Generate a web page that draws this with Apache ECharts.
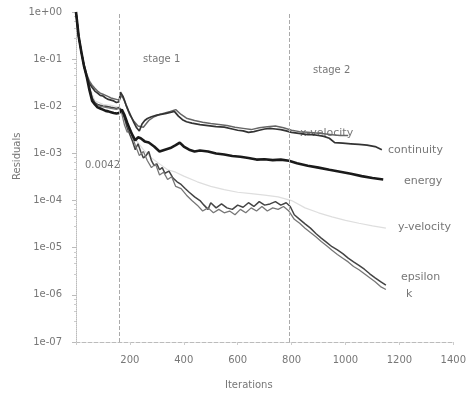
<!DOCTYPE html>
<html><head><meta charset="utf-8">
<script src="https://cdn.jsdelivr.net/npm/echarts@6/dist/echarts.min.js"></script>
<style>html,body{margin:0;padding:0;background:#fff}#c{width:469px;height:394px}</style>
</head><body><div id="c"></div>
<script>
// x tick labels and y tick labels
const xTickLabels = ['', '200', '400', '600', '800', '1000', '1200', '1400'];
const yTickLabels = ['1e+00', '1e-01', '1e-02', '1e-03', '1e-04', '1e-05', '1e-06', '1e-07'];
const markers = [160, 790];
const markerText = ['stage 1', 'stage 2'];

const contIter = [0,5,10,20,30,40,50,60,70,80,90,100,110,120,130,140,150,160,165,175,185,195,205,215,225,235,245,255,265,280,300,320,335,350,365,380,395,410,430,460,490,520,550,580,600,620,640,660,680,700,720,740,760,780,800,820,840,860,880,900,920,940,960,990,1020,1050,1080,1110,1135];
const contVal = [1,0.55,0.3,0.14,0.07,0.042,0.03,0.025,0.021,0.019,0.017,0.0165,0.015,0.014,0.0135,0.013,0.012,0.0125,0.02,0.016,0.011,0.008,0.006,0.0045,0.0035,0.003,0.0042,0.005,0.0055,0.006,0.0065,0.0068,0.0071,0.0074,0.0078,0.0062,0.0052,0.0047,0.0044,0.0041,0.0039,0.0037,0.0036,0.0033,0.0031,0.003,0.0028,0.0029,0.0031,0.0033,0.0034,0.0033,0.0032,0.003,0.0028,0.0027,0.0026,0.0025,0.0025,0.0024,0.0023,0.0021,0.0017,0.00165,0.0016,0.00155,0.0015,0.0014,0.0012];

const xvelIter = [0,5,10,20,30,40,50,60,70,80,90,100,110,120,130,140,150,160,170,180,190,200,215,230,250,270,290,310,330,350,370,390,410,440,470,500,530,560,590,620,650,680,710,740,770,800,830,860,890,920,950,980,1010];
const xvelVal = [1,0.55,0.3,0.14,0.075,0.048,0.034,0.028,0.024,0.021,0.019,0.018,0.017,0.016,0.015,0.0145,0.014,0.0135,0.017,0.013,0.009,0.0065,0.0048,0.0038,0.0036,0.005,0.006,0.0067,0.0072,0.0078,0.0085,0.0067,0.0056,0.005,0.0046,0.0043,0.0041,0.0039,0.0036,0.0034,0.0032,0.0035,0.0037,0.0038,0.0035,0.0031,0.0029,0.0028,0.0027,0.0026,0.0025,0.0024,0.0024];

const enerIter = [0,5,10,20,30,40,50,60,70,80,90,100,110,120,130,140,150,160,170,180,190,200,210,220,230,240,255,270,290,310,330,350,370,385,400,420,440,460,490,520,550,580,610,640,670,700,730,760,790,820,860,900,940,980,1020,1060,1100,1140];
const enerVal = [1,0.55,0.3,0.14,0.07,0.042,0.022,0.013,0.011,0.0095,0.009,0.0085,0.008,0.0078,0.0075,0.0072,0.007,0.0072,0.0085,0.0065,0.0045,0.0032,0.0024,0.0019,0.0022,0.0021,0.0018,0.0017,0.0014,0.0011,0.0012,0.0013,0.0015,0.0017,0.0014,0.0012,0.0011,0.00115,0.0011,0.001,0.00095,0.00088,0.00085,0.0008,0.00074,0.00075,0.00072,0.00074,0.0007,0.00062,0.00055,0.0005,0.00045,0.00041,0.00037,0.00033,0.0003,0.00028];

const yvelIter = [0,5,10,20,30,40,50,70,100,130,160,180,200,220,250,280,310,340,370,400,450,500,550,600,650,700,750,800,850,900,950,1000,1050,1100,1150];
const yvelVal = [1,0.55,0.3,0.14,0.07,0.042,0.026,0.013,0.011,0.0105,0.0095,0.006,0.003,0.002,0.0012,0.0008,0.0006,0.00045,0.0004,0.00033,0.00025,0.0002,0.00017,0.00015,0.00014,0.00013,0.00012,0.0001,0.00007,0.000055,0.000045,0.000038,0.000033,0.000029,0.000026];

const epsIter = [0,5,10,20,30,40,50,60,70,80,90,100,110,120,130,140,150,160,170,180,190,200,210,220,230,240,250,260,270,280,290,300,310,320,330,345,360,375,390,405,420,440,460,475,490,500,520,540,560,580,600,620,640,660,680,700,720,740,760,780,795,810,830,850,870,890,910,930,950,970,990,1010,1030,1050,1070,1090,1110,1130,1150];
const epsVal = [1,0.55,0.3,0.14,0.07,0.042,0.025,0.015,0.012,0.011,0.0105,0.0102,0.01,0.0098,0.0095,0.0093,0.009,0.0095,0.008,0.0055,0.0035,0.0025,0.0018,0.0012,0.0016,0.0011,0.0008,0.0009,0.0011,0.0007,0.00055,0.0006,0.00045,0.0005,0.00038,0.00042,0.0003,0.00025,0.00022,0.00018,0.00015,0.00012,0.0001,0.00008,0.000065,0.00009,0.00007,0.000085,0.00007,0.000065,0.00008,0.000072,0.00009,0.000075,0.000095,0.00008,0.000085,0.000095,0.00008,0.00009,0.000075,0.00005,0.00004,0.000032,0.000026,0.00002,0.000016,0.000013,0.0000105,0.000009,0.0000075,0.000006,0.000005,0.0000042,0.0000035,0.0000028,0.0000023,0.0000019,0.0000016];

const kIter = [0,5,10,20,30,40,50,60,70,80,90,100,110,120,130,140,150,160,170,180,190,200,210,220,235,250,265,280,295,310,325,340,355,370,390,410,430,450,470,490,510,530,550,570,590,610,630,650,670,690,710,730,750,770,790,810,830,850,870,890,910,930,950,970,990,1010,1030,1050,1070,1090,1110,1130,1150];
const kVal = [1,0.55,0.3,0.14,0.07,0.042,0.024,0.014,0.0115,0.0105,0.01,0.0097,0.0095,0.0093,0.009,0.0088,0.0086,0.009,0.007,0.004,0.0028,0.0035,0.0022,0.0015,0.0009,0.0011,0.0007,0.0005,0.0006,0.00035,0.0004,0.00028,0.00032,0.0002,0.00018,0.00013,0.0001,0.00008,0.00006,0.00007,0.000055,0.000065,0.000055,0.00006,0.00005,0.000065,0.000055,0.00007,0.00006,0.000075,0.00006,0.00007,0.000065,0.000075,0.00006,0.00004,0.000033,0.000026,0.000021,0.000017,0.0000135,0.000011,0.0000088,0.0000072,0.000006,0.000005,0.000004,0.0000034,0.0000028,0.0000023,0.0000019,0.0000015,0.0000013];

const seriesNames = ['x-velocity', 'continuity', 'energy', 'y-velocity', 'epsilon', 'k'];

function pairs(a, b) { return a.map((x, i) => [x, b[i]]); }

const chart = echarts.init(document.getElementById('c'), null, {renderer: 'canvas'});
const txt = {fill: '#777', font: '11px "DejaVu Sans"'};
const txtS = {fill: '#777', font: '10px "DejaVu Sans"'};
chart.setOption({
  animation: false,
  backgroundColor: '#fff',
  grid: {left: 76, right: 13, top: 12, bottom: 52},
  xAxis: {
    type: 'value', min: 0, max: 1400, interval: 200,
    axisLine: {show: true, onZero: false, lineStyle: {color: '#bbb', type: 'dashed'}},
    axisTick: {show: true, length: 3, lineStyle: {color: '#ccc'}},
    axisLabel: {color: '#777', fontSize: 10, fontFamily: 'DejaVu Sans', margin: 13,
      formatter: v => xTickLabels[Math.round(v / 200)]},
    splitLine: {show: false}
  },
  yAxis: {
    type: 'log', logBase: 10, min: 1e-7, max: 1,
    axisLine: {show: true, lineStyle: {color: '#bbb', type: 'dotted'}},
    axisTick: {show: true, length: 4, lineStyle: {color: '#bbb'}},
    minorTick: {show: true, splitNumber: 5, length: 2, lineStyle: {color: '#ccc'}},
    axisLabel: {color: '#777', fontSize: 10, fontFamily: 'DejaVu Sans', margin: 14,
      formatter: v => yTickLabels[Math.round(-Math.log10(v))]},
    splitLine: {show: false}
  },
  series: [
    {name: seriesNames[0], type: 'line', showSymbol: false, data: pairs(xvelIter, xvelVal),
      lineStyle: {color: '#666', width: 1.5}, z: 2},
    {name: seriesNames[1], type: 'line', showSymbol: false, data: pairs(contIter, contVal),
      lineStyle: {color: '#333', width: 1.7}, z: 3,
      markLine: {silent: true, symbol: 'none', label: {show: false},
        lineStyle: {color: '#aaa', type: 'dashed', width: 1},
        data: markers.map(m => ({xAxis: m}))}},
    {name: seriesNames[2], type: 'line', showSymbol: false, data: pairs(enerIter, enerVal),
      lineStyle: {color: '#1a1a1a', width: 2.6}, z: 4},
    {name: seriesNames[3], type: 'line', showSymbol: false, data: pairs(yvelIter, yvelVal),
      lineStyle: {color: '#dedede', width: 1.2}, z: 1},
    {name: seriesNames[4], type: 'line', showSymbol: false, data: pairs(epsIter, epsVal),
      lineStyle: {color: '#444', width: 1.5}, z: 3},
    {name: seriesNames[5], type: 'line', showSymbol: false, data: pairs(kIter, kVal),
      lineStyle: {color: '#777', width: 1.3}, z: 3}
  ],
  graphic: [
    {type: 'text', left: 300, top: 128, style: Object.assign({text: seriesNames[0]}, txt)},
    {type: 'text', left: 388, top: 145, style: Object.assign({text: seriesNames[1]}, txt)},
    {type: 'text', left: 404, top: 176, style: Object.assign({text: seriesNames[2]}, txt)},
    {type: 'text', left: 398, top: 222, style: Object.assign({text: seriesNames[3]}, txt)},
    {type: 'text', left: 401, top: 272, style: Object.assign({text: seriesNames[4]}, txt)},
    {type: 'text', left: 406, top: 289, style: Object.assign({text: seriesNames[5]}, txt)},
    {type: 'text', left: 143, top: 54, style: Object.assign({text: markerText[0]}, txtS)},
    {type: 'text', left: 313, top: 65, style: Object.assign({text: markerText[1]}, txtS)},
    {type: 'text', left: 85, top: 160, style: Object.assign({text: '0.0042'}, txtS)},
    {type: 'text', left: 225, top: 380, style: Object.assign({text: 'Iterations'}, txtS)},
    {type: 'text', x: 12, y: 180, rotation: Math.PI / 2, style: Object.assign({text: 'Residuals'}, txtS)}
  ]
});
</script></body></html>
